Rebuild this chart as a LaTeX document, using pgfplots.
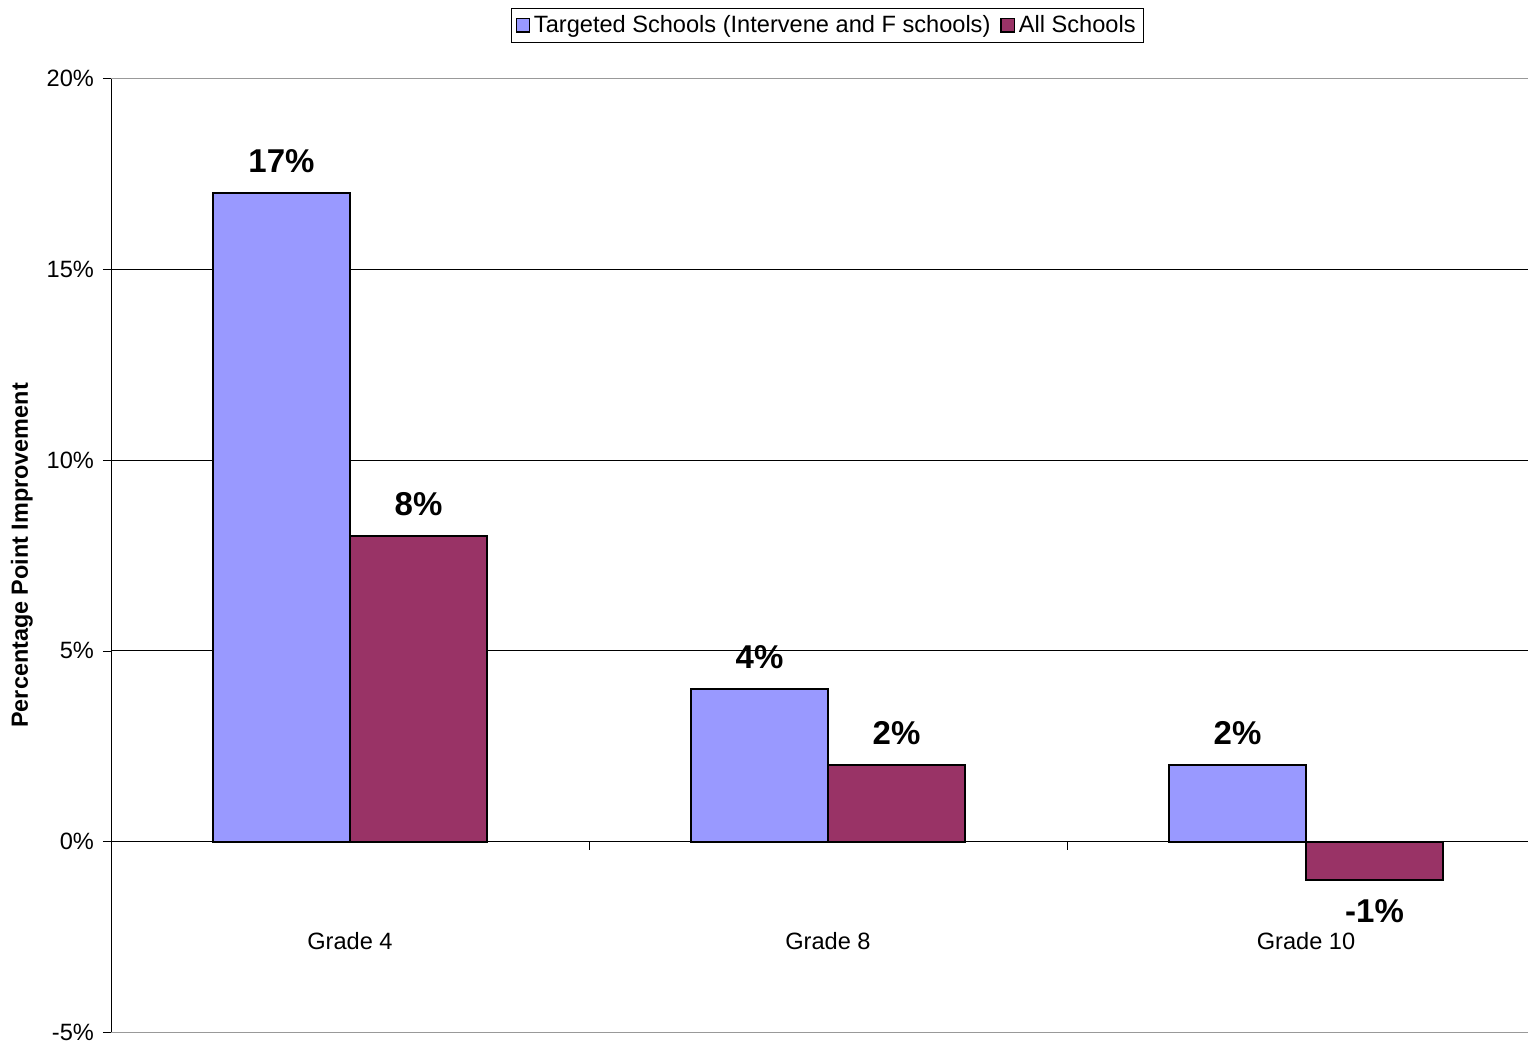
\documentclass[border=0pt]{standalone}
\usepackage{pgfplots}
\pgfplotsset{compat=1.18}
\usepackage{fontspec}
\setmainfont{Liberation Sans}

\definecolor{targeted}{HTML}{9999FF}
\definecolor{allschools}{HTML}{993366}

\begin{document}
\begin{tikzpicture}
	% page = 1528x1046 px at 0.5pt per px (a little room kept under the -5% label)
	\path[use as bounding box] (-55.5pt,-6.8pt) rectangle (708.5pt,516.2pt);

	\begin{axis}[
		scale only axis,
		width			= 708.5pt,
		height			= 477pt,
		xmin			= -0.5,
		xmax			= 2.4644,
		ymin			= -5,
		ymax			= 20,
		axis y line		= left,
		axis x line		= middle,
		axis line style	= {-, black},
		ytick			= {-5,0,5,10,15,20},
		yticklabel		= {\pgfmathprintnumber{\tick}\%},
		/pgf/number format/assume math mode=true,
		tick label style	= {font=\fontsize{11.8}{14}\selectfont},
		yticklabel style	= {xshift=-1pt},
		xtick			= {0,1,2},
		xticklabels		= {Grade 4, Grade 8, Grade 10},
		xticklabel style	= {anchor=center, yshift=-45.5pt},
		major x tick style	= {draw=none},
		minor xtick		= {0.5,1.5},
		minor x tick style	= {black},
		tick align		= outside,
		major tick length	= 4pt,
		minor tick length	= 4pt,
		y tick style		= {black},
		ymajorgrids,
		grid style		= {black, thin},
		ylabel			= {\textbf{Percentage Point Improvement}},
		ylabel style		= {at={(rel axis cs:0,0.5)}, anchor=center, yshift=44.5pt, font=\fontsize{11.7}{14}\selectfont},
		ybar			= 0pt,
		bar width		= 0.2866,
		nodes near coords	= {\pgfmathprintnumber{\pgfplotspointmeta}\%},
		every node near coord/.append style = {font=\fontsize{16.5}{18}\selectfont\bfseries, inner ysep=9.5pt},
		legend columns	= 2,
		legend style		= {at={(0.5057,1)}, anchor=center, yshift=26.5pt, draw=black, font=\fontsize{11.8}{14}\selectfont, inner xsep=2pt, inner ysep=1.5pt, /tikz/every even column/.append style={column sep=3pt}},
		legend image code/.code = {\draw[#1, draw=black, line width=0.6pt] (0pt,-3.3pt) rectangle (6.6pt,3.3pt);},
	]

		% gray frame lines at top and bottom
		\draw[gray!80, thin] (rel axis cs:0,1) -- (rel axis cs:1,1);
		\draw[gray!80, thin] (rel axis cs:0,0) -- (rel axis cs:1,0);

		\addplot[fill = targeted, draw = black, line width = 1.1pt] coordinates {(0,17) (1,4) (2,2)};
		\addplot[fill = allschools, draw = black, line width = 1.1pt] coordinates {(0,8) (1,2) (2,-1)};

		\legend{Targeted Schools (Intervene and F schools), All Schools}

	\end{axis}

\end{tikzpicture}
\end{document}
